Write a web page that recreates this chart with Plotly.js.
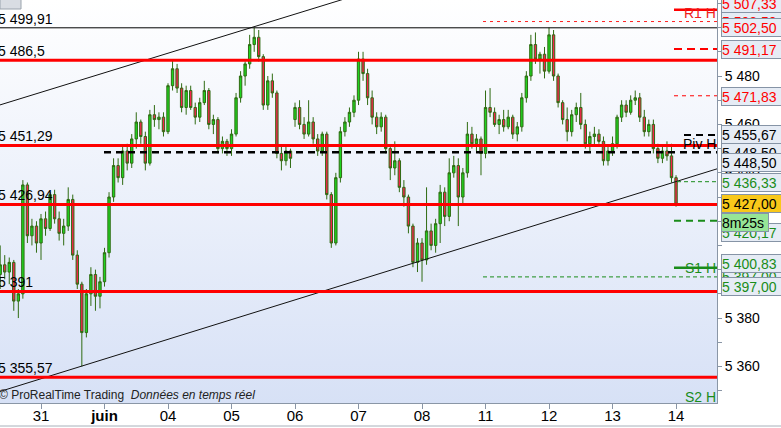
<!DOCTYPE html>
<html><head><meta charset="utf-8">
<script src="https://cdn.plot.ly/plotly-3.0.1.min.js"></script>
<style>
html,body{margin:0;padding:0;background:#fff;}
#wrap{position:relative;width:781px;height:428px;overflow:hidden;}
#bg{position:absolute;left:0;top:0;width:717px;height:403px;background:linear-gradient(to bottom,#ffffff 0%,#d7e1f6 100%);}
#chart{position:absolute;left:0;top:0;width:781px;height:428px;}
</style></head><body>
<div id="wrap"><div id="bg"></div><div id="chart"></div></div>
<script>
// ---- Hourly candles, 30 May (partial) to 14 June ----
const open = [5398,5402,5399,5403,5387,5390,5435,5414,5418,
5411,5421,5417,5431,5421,5415,5418,5429,5406,5394,5374,5390,5398,5389,
5395,5407,5430,5443,5438,5449,5444,5454,5461,5455,5444,5464,5462,5463,
5457,5476,5483,5475,5467,5474,5467,5463,5469,5474,5460,5462,5450,5453,
5450,5456,5471,5480,5485,5493,5496,5488,5468,5478,5473,5448,5445,5449,
5462,5467,5460,5456,5461,5454,5449,5456,5431,5411,5438,5457,5461,5465,
5470,5487,5481,5471,5463,5459,5463,5450,5442,5445,5434,5430,5418,5403,
5411,5404,5416,5410,5419,5432,5422,5440,5443,5430,5440,5456,5452,5454,
5448,5467,5465,5460,5462,5459,5463,5456,5459,5471,5480,5493,5487,5489,
5482,5497,5480,5469,5462,5457,5464,5467,5460,5452,5455,5456,5453,5445,
5449,5452,5463,5468,5465,5470,5471,5463,5457,5460,5450,5446,5449,5447,
5438];
const high = [5410,5406,5405,5404,5392,5437,5436,5421,5420,
5423,5424,5432,5433,5424,5421,5434,5431,5408,5395,5392,5401,5400,5397,
5409,5432,5446,5446,5451,5452,5456,5465,5462,5457,5466,5468,5465,5465,
5477,5487,5485,5477,5476,5476,5469,5471,5478,5475,5464,5463,5455,5454,
5458,5473,5482,5486,5497,5500,5499,5489,5480,5481,5474,5451,5451,5450,
5469,5470,5463,5470,5463,5456,5457,5457,5432,5440,5459,5463,5467,5472,
5490,5490,5483,5474,5465,5465,5464,5451,5453,5446,5437,5431,5419,5413,
5413,5434,5419,5421,5435,5434,5446,5447,5446,5442,5461,5459,5456,5455,
5474,5475,5467,5464,5466,5466,5464,5461,5473,5482,5497,5498,5490,5492,
5500,5499,5481,5470,5467,5466,5469,5473,5462,5457,5459,5458,5455,5451,
5455,5464,5470,5470,5472,5474,5473,5466,5462,5462,5452,5451,5453,5452,
5439];
const low = [5392,5396,5394,5383,5380,5388,5411,5410,5407,
5404,5414,5416,5419,5412,5410,5416,5404,5392,5360,5372,5385,5383,5384,
5393,5405,5428,5436,5435,5441,5442,5450,5452,5441,5443,5459,5458,5455,
5456,5474,5473,5465,5464,5466,5460,5461,5468,5458,5456,5448,5448,5447,
5447,5455,5469,5476,5483,5490,5486,5466,5466,5471,5446,5441,5443,5442,
5459,5458,5454,5455,5452,5447,5447,5429,5409,5410,5436,5455,5459,5463,
5468,5478,5468,5460,5456,5457,5448,5437,5439,5432,5426,5415,5401,5399,
5395,5402,5408,5407,5411,5418,5420,5438,5418,5427,5438,5450,5449,5439,
5446,5463,5459,5456,5457,5458,5454,5453,5457,5469,5478,5485,5481,5479,
5481,5478,5467,5460,5453,5455,5461,5458,5450,5449,5451,5452,5443,5443,
5447,5450,5461,5463,5464,5468,5461,5455,5455,5448,5444,5444,5445,5436,
5426];
const close = [5402,5399,5403,5387,5390,5435,5414,5418,5411,
5421,5417,5431,5421,5415,5418,5429,5406,5394,5374,5390,5398,5389,5395,
5407,5430,5443,5438,5449,5444,5454,5461,5455,5444,5464,5462,5463,5457,
5476,5483,5475,5467,5474,5467,5463,5469,5474,5460,5462,5450,5453,5450,
5456,5471,5480,5485,5493,5496,5488,5468,5478,5473,5448,5445,5449,5446,
5467,5460,5456,5461,5454,5449,5456,5431,5411,5438,5457,5461,5465,5470,
5487,5481,5471,5463,5459,5463,5450,5442,5445,5434,5430,5418,5403,5411,
5404,5416,5410,5419,5432,5422,5440,5443,5430,5440,5456,5452,5454,5448,
5467,5465,5460,5462,5459,5463,5456,5459,5471,5480,5493,5487,5489,5482,
5497,5480,5469,5462,5457,5464,5467,5460,5452,5455,5456,5453,5445,5449,
5452,5463,5468,5465,5470,5471,5463,5457,5460,5450,5446,5449,5447,5438,
5427];

// day ticks (index of first candle of each day)
const dayTickIdx = [9,23,37,51,65,79,93,107,121,135,149];
const dayLabels = ['31','<b>juin</b>','04','05','06','07','08','11','12','13','14'];

// full-width horizontal red levels and their left labels
const redLevels = [5486.5, 5451.29, 5426.94, 5391, 5355.57];
const redLabels = ['5 486,5','5 451,29','5 426,94','5 391','5 355,57'];
const blackLevel = 5499.91;
const blackLabel = '5 499,91';

// pivot levels on the right
const r1 = 5507.33, r1b = 5491.17, rMid = 5471.83, piv = 5455.67, pivLong = 5448.50;
const gMid = 5436.33, gMid2 = 5420.17, s1 = 5400.83, s1Long = 5397.00, rLong = 5502.50;

// channel trend lines (index, price)
const upperTrend = [[-1, 5467.5], [158, 5559.2]];
const lowerTrend = [[-1, 5349.1], [159, 5442.2]];

// right price boxes
const boxTexts  = ['5 502,50','5 507,33','5 502,50','5 491,17','5 471,83','5 455,67','5 448,50','5 448,50','5 436,33','5 427,00','5 420,17','8m25s','5 397,00','5 400,83','5 397,00'];

const F = 'Liberation Sans, Arial, sans-serif';
const XMIN = -0.04, XMAX = 158.03;
const PW = 717, PH = 403;
const ix = px => XMIN + px / PW * (XMAX - XMIN);
const yp = py => 1 - py / PH;
const idx = open.map((_, i) => i);

const RED = '#ff0000', GREEN = '#1a8c1a', BLACK = '#000000';

const trace = {
  type: 'candlestick', x: idx, open: open, high: high, low: low, close: close,
  increasing: {line: {color: '#2f6b12', width: 1}, fillcolor: '#1fd41f'},
  decreasing: {line: {color: '#2f6b12', width: 1}, fillcolor: '#f3244c'},
  whiskerwidth: 0, hoverinfo: 'skip', showlegend: false
};

function hline(y, x0px, color, width, dash) {
  return {type: 'line', xref: 'x', yref: 'y', x0: ix(x0px), x1: XMAX, y0: y, y1: y,
          line: {color: color, width: width, dash: dash || 'solid'}};
}
const shapes = [];
// trend lines
shapes.push({type:'line', xref:'x', yref:'y', x0: upperTrend[0][0], y0: upperTrend[0][1], x1: upperTrend[1][0], y1: upperTrend[1][1], line:{color:'#111', width:1}});
shapes.push({type:'line', xref:'x', yref:'y', x0: lowerTrend[0][0], y0: lowerTrend[0][1], x1: lowerTrend[1][0], y1: lowerTrend[1][1], line:{color:'#111', width:1}});
// black thin line
shapes.push(hline(blackLevel, 0, '#000', 1));
// full red lines
redLevels.forEach(v => shapes.push(hline(v, 0, RED, 3)));
// long dotted / dashed
shapes.push(hline(rLong, 483, '#ff2020', 1, '3px,4px'));
shapes.push(hline(pivLong, 104, BLACK, 2.5, '7px,5px'));
shapes.push(hline(s1Long, 483, GREEN, 1, '4px,3px'));
// short pivot lines
shapes.push(hline(r1, 674, RED, 2.5));
shapes.push(hline(r1b, 674, RED, 2, '8px,5px'));
shapes.push(hline(rMid, 674, RED, 1, '4px,4px'));
shapes.push(hline(piv, 684, BLACK, 2, '7px,5px'));
shapes.push(hline(gMid, 677, GREEN, 1, '4px,3px'));
shapes.push(hline(gMid2, 674, GREEN, 2, '7px,5px'));
shapes.push(hline(s1, 674, GREEN, 2.5));
// top-left button
shapes.push({type:'rect', xref:'paper', yref:'paper', x0: 0, x1: 21/PW, y0: yp(9), y1: 1.01, fillcolor:'#d9dde3', line:{color:'#9aa3ad', width:1}});
// bottom border line
shapes.push({type:'line', xref:'paper', yref:'paper', x0: 0, x1: 781/PW, y0: yp(426), y1: yp(426), line:{color:'#a8b0ba', width:1}});

const annotations = [];
// left labels
annotations.push({xref:'paper', yref:'y', x:0, xanchor:'left', xshift:-4, y: blackLevel, yanchor:'bottom', yshift:-1, text: blackLabel, showarrow:false, font:{family:F, size:14, color:'#000'}});
redLevels.forEach((v, k) => annotations.push({xref:'paper', yref:'y', x:0, xanchor:'left', xshift:-4, y: v, yanchor:'bottom', yshift:-1, text: redLabels[k], showarrow:false, font:{family:F, size:14, color:'#000'}}));
// in-plot pivot names
function tag(text, py, color) {
  return {xref:'paper', yref:'paper', x:1, xanchor:'right', xshift:1, y: yp(py), yanchor:'middle', text:text, showarrow:false, font:{family:F, size:14, color:color}};
}
annotations.push(tag('R1 H', 13, '#ee1c1c'));
annotations.push(tag('Piv H', 144, '#000'));
annotations.push(tag('S1 H', 268, GREEN));
annotations.push(tag('S2 H', 397, GREEN));
// copyright
annotations.push({xref:'paper', yref:'paper', x:0, xanchor:'left', xshift:-3, y: yp(395), yanchor:'middle', text:'© ProRealTime Trading  <i>Données en temps réel</i>', showarrow:false, font:{family:F, size:12, color:'#222'}});
// right boxes
const boxY = [21, 4, 28, 49, 97, 135, 152, 163, 182, 203, 232, 222, 276, 263, 286];
const boxC = [RED, RED, RED, RED, RED, '#000', '#000', '#000', GREEN, '#000', GREEN, '#000', GREEN, GREEN, GREEN];
const boxBg = ['#e6ecf5','#e6ecf5','#e6ecf5','#e6ecf5','#e6ecf5','#e6ecf5','#e6ecf5','#e6ecf5','#e6ecf5','#f9c81a','#e6ecf5','#96e596','#e6ecf5','#e6ecf5','#e6ecf5'];
boxTexts.forEach((t, k) => annotations.push({
  xref:'paper', yref:'paper', x:1, xanchor:'left', xshift:4, y: yp(boxY[k]), yanchor:'middle',
  text: t, showarrow:false, font:{family:F, size:14, color: boxC[k]},
  bgcolor: boxBg[k], bordercolor:'#8694a6', borderwidth:1, borderpad:0,
  width: t === '8m25s' ? 46 : 62, height:17, align:'left'
}));

const layout = {
  width: 781, height: 428,
  margin: {l: 0, r: 64, t: 0, b: 25, pad: 0},
  paper_bgcolor: 'rgba(0,0,0,0)', plot_bgcolor: 'rgba(0,0,0,0)',
  separators: ', ',
  boxgap: 0.25,
  showlegend: false,
  xaxis: {
    type: 'linear', range: [XMIN, XMAX], rangeslider: {visible: false},
    tickvals: dayTickIdx, ticktext: dayLabels,
    ticks: 'outside', ticklen: 5, tickcolor: '#8a96a6',
    ticklabelstandoff: -6,
    showgrid: false, zeroline: false, showline: true, linecolor: '#8a96a6', linewidth: 1,
    tickfont: {family: F, size: 15, color: '#000'}, fixedrange: true
  },
  yaxis: {
    side: 'right', range: [5344.9, 5511.4], dtick: 20, tick0: 5360, tickformat: ',d',
    ticks: 'outside', ticklen: 4, tickcolor: '#8a96a6',
    minor: {dtick: 10, ticklen: 4, tickcolor: '#8a96a6', ticks: 'outside'},
    showgrid: false, zeroline: false, showline: true, linecolor: '#8a96a6', linewidth: 1,
    tickfont: {family: F, size: 14, color: '#000'}, fixedrange: true
  },
  shapes: shapes,
  annotations: annotations
};

Plotly.newPlot('chart', [trace], layout, {staticPlot: true, displayModeBar: false});
</script>
</body></html>
